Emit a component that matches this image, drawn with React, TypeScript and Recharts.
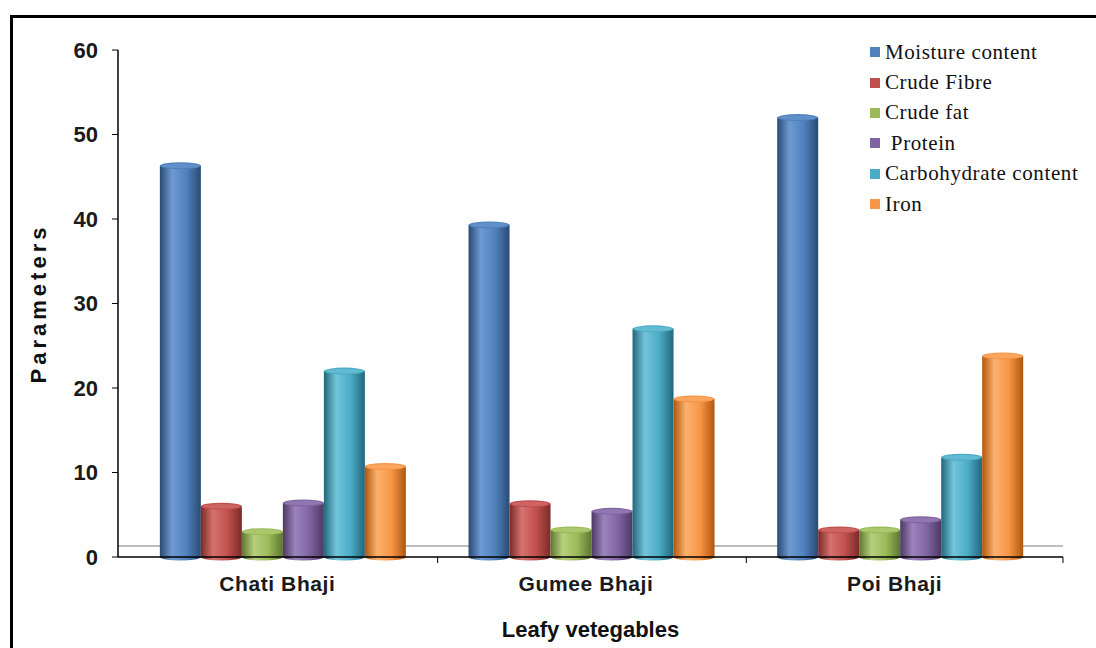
import { BarChart, Bar, XAxis, YAxis, Label, ReferenceLine } from "recharts"

const categories = ["Chati Bhaji", "Gumee Bhaji", "Poi Bhaji"]
const seriesNames = ["Moisture content", "Crude Fibre", "Crude fat", " Protein", "Carbohydrate content", "Iron"]
const moisture = [46.3, 39.3, 52.0]
const crudeFibre = [6.0, 6.3, 3.2]
const crudeFat = [3.0, 3.2, 3.2]
const protein = [6.4, 5.4, 4.4]
const carbohydrate = [22.0, 27.0, 11.8]
const iron = [10.7, 18.7, 23.8]
const yTicks = [0, 10, 20, 30, 40, 50, 60]

const seriesValues = [moisture, crudeFibre, crudeFat, protein, carbohydrate, iron]
const keys = ["moisture", "fibre", "fat", "protein", "carb", "iron"]

// base / dark / light shades for the cylinder look
const colors = [
  ["#4F81BD", "#2A4A73", "#6E9AD2"],
  ["#C0504D", "#7A2B29", "#D6726F"],
  ["#9BBB59", "#5E7630", "#B6D07C"],
  ["#8064A2", "#4B3A62", "#9C83BD"],
  ["#4BACC6", "#23667A", "#72C4DA"],
  ["#F79646", "#B0560C", "#FBB16F"],
]

const data = categories.map((name, i) => {
  const row: Record<string, string | number> = { name }
  keys.forEach((k, s) => {
    row[k] = seriesValues[s][i]
  })
  return row
})

const HALF_BAND = 154.3

function Cylinder(props: any) {
  const { x, y, width, height } = props
  const s = props.seriesIndex
  if (!height || height <= 0) return null
  const rx = width / 2
  const ry = 3.5
  const cx = x + rx
  return (
    <g>
      <path
        d={`M${x},${y} L${x},${y + height} A${rx},${ry} 0 0 0 ${x + width},${y + height} L${x + width},${y} Z`}
        fill={`url(#grad${s})`}
      />
      <ellipse cx={cx} cy={y} rx={rx} ry={ry} fill={colors[s][0]} />
      <ellipse cx={cx} cy={y} rx={rx - 2} ry={ry - 1.2} fill={colors[s][2]} opacity={0.6} />
    </g>
  )
}

function XTick(props: any) {
  const { x, y, payload, index } = props
  const tx = x + HALF_BAND + (index === 2 ? 8 : 0)
  return (
    <g>
      <line x1={tx} x2={tx} y1={y - 8} y2={y - 2} stroke="#000" />
      <text
        x={x - 6}
        y={y + 26}
        textAnchor="middle"
        fontFamily="'Liberation Sans', Arial, sans-serif"
        fontWeight="bold"
        fontSize={21}
        letterSpacing={0.6}
        fill="#1a1a1a"
      >
        {payload.value}
      </text>
    </g>
  )
}

function LegendBox() {
  return (
    <div
      style={{
        position: "absolute",
        left: 870,
        top: 37,
        fontFamily: "'Liberation Serif', 'Times New Roman', serif",
        fontSize: 21,
        color: "#111",
      }}
    >
      {seriesNames.map((n, i) => (
        <div key={n} style={{ display: "flex", alignItems: "center", height: 30.4, whiteSpace: "pre" }}>
          <span style={{ display: "inline-block", width: 10, height: 10, background: colors[i][0], marginRight: 5 }} />
          <span style={{ letterSpacing: 0.6 }}>{n}</span>
        </div>
      ))}
    </div>
  )
}

export default function App() {
  return (
    <div style={{ position: "fixed", left: 0, top: 0, width: 1096, height: 648, overflow: "hidden", background: "#fff" }}>
      <div
        style={{
          position: "absolute",
          left: 10,
          top: 15,
          width: 1200,
          height: 800,
          border: "3px solid #000",
        }}
      />
      <div style={{ position: "absolute", left: 0, top: 0 }}>
        <BarChart
          width={1096}
          height={648}
          data={data}
          margin={{ top: 50, right: 33, bottom: 41, left: 58 }}
          barCategoryGap="10%"
          barGap={0}
        >
          <defs>
            {colors.map((c, i) => (
              <linearGradient key={i} id={`grad${i}`} x1="0" y1="0" x2="1" y2="0">
                <stop offset="0%" stopColor={c[1]} />
                <stop offset="30%" stopColor={c[2]} />
                <stop offset="65%" stopColor={c[0]} />
                <stop offset="100%" stopColor={c[1]} />
              </linearGradient>
            ))}
          </defs>
          <XAxis
            dataKey="name"
            height={50}
            padding={{ left: 11, right: 8 }}
            axisLine={{ stroke: "#000", strokeWidth: 1.5 }}
            tickLine={false}
            tick={<XTick />}
            interval={0}
          >
            <Label
              value="Leafy vetegables"
              position="insideBottom"
              offset={-30}
              style={{
                fontFamily: "'Liberation Sans', Arial, sans-serif",
                fontWeight: "bold",
                fontSize: 22,
                fill: "#111",
              }}
            />
          </XAxis>
          <YAxis
            domain={[0, 60]}
            ticks={yTicks}
            width={60}
            axisLine={{ stroke: "#000", strokeWidth: 1.5 }}
            tickLine={{ stroke: "#000" }}
            tickSize={6}
            tick={{
              dx: -12,
              fontFamily: "'Liberation Sans', Arial, sans-serif",
              fontWeight: "bold",
              fontSize: 22,
              fill: "#1a1a1a",
            }}
          >
            <Label
              value="Parameters"
              angle={-90}
              position="insideLeft"
              offset={-20}
              style={{
                fontFamily: "'Liberation Sans', Arial, sans-serif",
                fontWeight: "bold",
                fontSize: 22,
                letterSpacing: 4,
                fill: "#111",
                textAnchor: "middle",
              }}
            />
          </YAxis>
          <ReferenceLine y={1.3} stroke="#a6a6a6" strokeWidth={1.5} zIndex={-1} />
          {keys.map((k, s) => (
            <Bar
              key={k}
              dataKey={k}
              name={seriesNames[s]}
              fill={colors[s][0]}
              isAnimationActive={false}
              shape={(p: any) => <Cylinder {...p} seriesIndex={s} />}
            />
          ))}
        </BarChart>
      </div>
      <LegendBox />
    </div>
  )
}
